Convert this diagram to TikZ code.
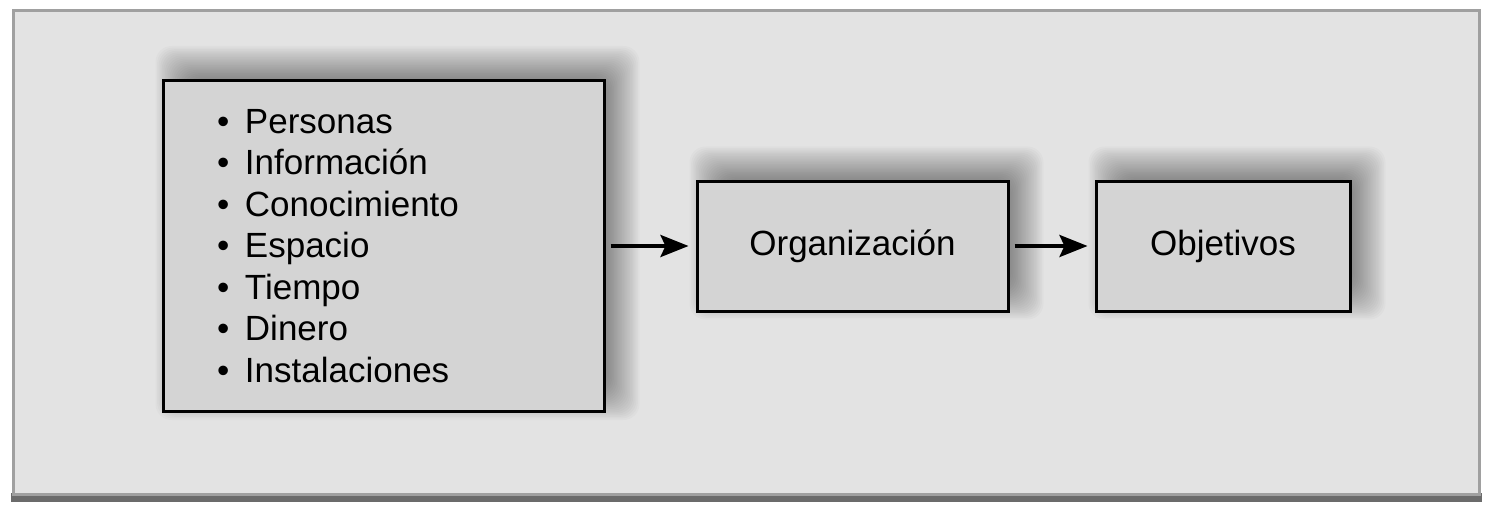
\documentclass[tikz,border=0pt]{standalone}
\usepackage{fontspec}
\setmainfont{Liberation Sans}
\usetikzlibrary{arrows.meta,backgrounds}
\pgfdeclarelayer{frame}
\pgfsetlayers{frame,background,main}
\definecolor{bgfill}{HTML}{E3E3E3}
\definecolor{framegray}{HTML}{A0A0A0}
\definecolor{bargray}{HTML}{6B6B6B}
\definecolor{boxfill}{HTML}{D4D4D4}
\tikzset{
  stagebox/.style={draw=black, line width=3pt, fill=boxfill, inner sep=0pt,
    font=\fontsize{35}{41.5}\selectfont},
  flow/.style={line width=4pt, -{Stealth[length=28pt, width=22pt, inset=5pt]}, shorten <=5pt, shorten >=7pt},
  shadowlayer/.style={fill=black, fill opacity=0.021, rounded corners=16pt}
}
\newcommand{\itm}[1]{\makebox[28pt][l]{\textbullet}#1}
% soft shadow offset right and upwards
\newcommand{\softshadow}[1]{%
  \begin{scope}[on background layer]
    \foreach \k in {0,...,25}{
      \pgfmathsetmacro{\ex}{20-40*\k/25}
      \fill[shadowlayer]
        ([xshift=14pt-\ex pt, yshift=13pt+\ex pt]#1.north west)
        rectangle ([xshift=14pt+\ex pt, yshift=13pt-\ex pt]#1.south east);
    }
  \end{scope}}
\begin{document}
\begin{tikzpicture}[x=1pt,y=-1pt]
\useasboundingbox (0,0) rectangle (1494,516);
\begin{pgfonlayer}{frame}
\fill[bargray] (11,493) rectangle (1482,502);
\draw[framegray, fill=bgfill, line width=3pt] (13,11) rectangle (1479,494);
\end{pgfonlayer}
\node[stagebox, minimum width=441pt, minimum height=331pt, text width=333pt, align=left, inner xsep=54pt] (inputs) at (383.5,246)
  {\itm{Personas}\\ \itm{Información}\\ \itm{Conocimiento}\\ \itm{Espacio}\\ \itm{Tiempo}\\ \itm{Dinero}\\ \itm{Instalaciones}};
\node[stagebox, minimum width=311pt, minimum height=130pt] (org) at (852.5,246) {Organización};
\node[stagebox, minimum width=254pt, minimum height=130pt] (obj) at (1223,246) {Objetivos};
\softshadow{inputs}
\softshadow{org}
\softshadow{obj}
\draw[flow] (inputs.east |- org.west) -- (org.west);
\draw[flow] (org.east) -- (obj.west);
\end{tikzpicture}
\end{document}
